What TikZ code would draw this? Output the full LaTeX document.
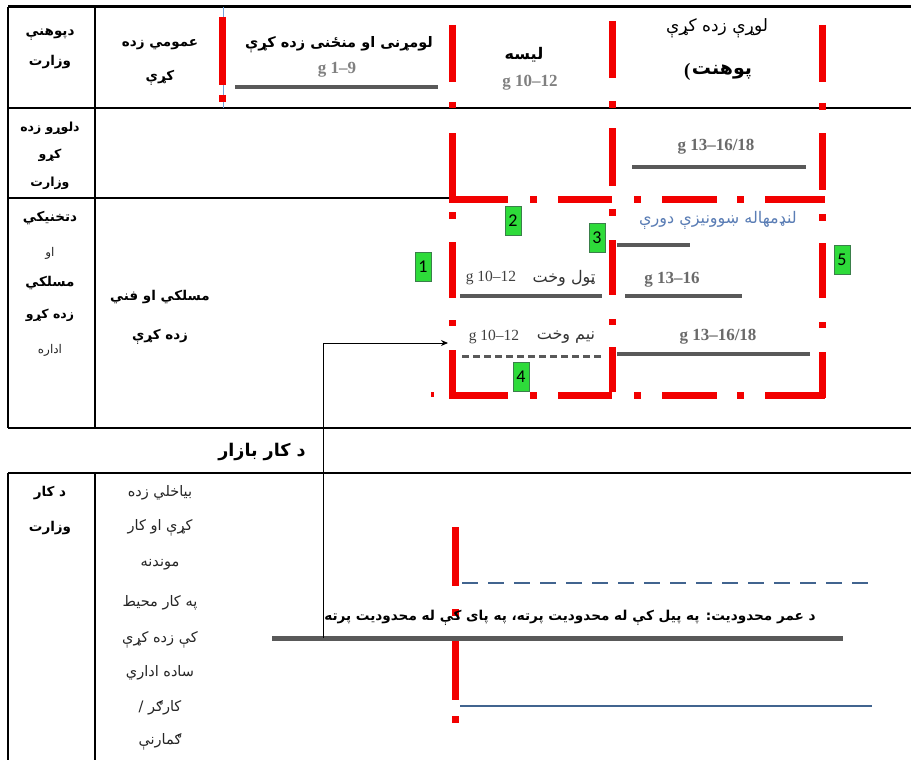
\documentclass[tikz,border=0pt]{standalone}
\usepackage{fontspec}
\setmainfont{Liberation Serif}
\newfontfamily\arabicfont[Script=Arabic]{DejaVu Sans}
\newfontfamily\numfont{Carlito}
\TeXXeTstate=1
\newcommand{\ar}[1]{{\arabicfont\beginR #1\endR}}
\usetikzlibrary{arrows.meta}
\definecolor{gline}{HTML}{595959}
\definecolor{gtext}{HTML}{808080}
\definecolor{gtextd}{HTML}{6A6A6A}
\definecolor{bline}{HTML}{41648F}
\definecolor{btext}{HTML}{5A7DB5}
\definecolor{gfill}{HTML}{2EDB3A}
\definecolor{gborder}{HTML}{3A7F4A}
\definecolor{redd}{HTML}{F20000}
\definecolor{lblue}{HTML}{6FA0D8}
\newcommand{\redv}[3]{\draw[redseg] (#1,#2) -- (#1,#3);}
\newcommand{\redh}[3]{\draw[redseg] (#2,#1) -- (#3,#1);}
\newcommand{\fs}[1]{\fontsize{#1}{#1}\selectfont}
\begin{document}
\begin{tikzpicture}[x=1pt,y=-1pt,
  tbl/.style={draw=black, line width=1.8pt},
  redseg/.style={draw=redd, line width=7pt},
  gbar/.style={draw=gline, line width=4pt},
  artxt/.style={inner sep=0pt, font=\fs{13}},
  arbold/.style={inner sep=0pt, font=\bfseries\fs{13.5}},
  arsmall/.style={inner sep=0pt, font=\fs{12}, text=black!85},
  arlist/.style={inner sep=0pt, font=\fs{14.5}, text=black!85},
  gtxt/.style={inner sep=0pt, text=gtext, font=\bfseries\fs{17}},
  gtxtd/.style={inner sep=0pt, text=gtextd, font=\bfseries\fs{17}},
  glab/.style={inner sep=0pt, text=black!75, font=\fs{15.5}},
  mixtxt/.style={inner sep=0pt, text=black!80, font=\fs{16}},
  gbox/.style={draw=gborder, fill=gfill, line width=0.6pt, minimum width=16pt,
    minimum height=29pt, inner sep=0pt, font=\numfont\fs{18}}]
\useasboundingbox (0,0) rectangle (911,760);
\fill[white] (0,0) rectangle (911,760);

% ---------- table lines ----------
\draw[draw=black, line width=3pt] (8,7) -- (911,7);
\draw[tbl] (8,7) -- (8,428);
\draw[tbl] (95,7) -- (95,428);
\draw[tbl] (8,108) -- (911,108);
\draw[tbl] (8,198) -- (450,198);
\draw[tbl] (8,428) -- (911,428);
\draw[tbl] (8,473) -- (911,473);
\draw[tbl] (8,473) -- (8,760);
\draw[tbl] (95,473) -- (95,760);
\draw[draw=lblue, line width=1pt] (223,7) -- (223,108);

% ---------- red dash-dot lines ----------
% top row
\redv{222}{17}{85}\redv{222}{95}{102}
\redv{452}{25}{82}\redv{452}{102}{108}
\redv{612}{21}{78}\redv{612}{101}{108}
\redv{822}{25}{82}\redv{822}{103}{110}
% second row
\redv{452}{133}{196}
\redv{612}{128}{186}
\redv{822}{133}{190}
% box top and bottom
\foreach \yy in {199,395}{
  \redh{\yy}{449}{508}\redh{\yy}{530}{537}\redh{\yy}{558}{612}
  \redh{\yy}{634}{641}\redh{\yy}{662}{717}\redh{\yy}{737}{744}\redh{\yy}{765}{825}}
% box verticals
\redv{452}{212}{219}\redv{452}{242}{298}\redv{452}{320}{326}\redv{452}{350}{398}
\redv{612}{209}{216}\redv{612}{240}{295}\redv{612}{319}{325}\redv{612}{347}{392}
\redv{822}{214}{221}\redv{822}{243}{298}\redv{822}{322}{328}\redv{822}{352}{398}
\draw[draw=redd, line width=3pt] (432,392) -- (432,397);
% bottom section
\redv{455}{527}{586}\redv{455}{609}{616}\redv{455}{640}{700}\redv{455}{716}{723}

% ---------- grey bars ----------
\draw[gbar] (235,87) -- (438,87);
\draw[gbar] (632,167) -- (806,167);
\draw[gbar] (617,245) -- (690,245);
\draw[gbar] (460,296) -- (602,296);
\draw[gbar] (625,296) -- (742,296);
\draw[draw=gline, line width=3pt, dash pattern=on 7pt off 4pt] (462,356) -- (602,356);
\draw[gbar] (617,354) -- (810,354);
\draw[draw=gline, line width=5pt] (272,638) -- (843,638);

% ---------- blue lines ----------
\draw[draw=bline, line width=2.5pt, dash pattern=on 16pt off 10pt] (462,583) -- (875,583);
\draw[draw=bline, line width=2.5pt] (460,706) -- (872,706);

% ---------- header row ----------
\node[arbold] (h1a) at (50,35) {\ar{دپوهنې}};
\node[arbold] (h1b) at (50,62) {\ar{وزارت}};
\node[arbold] (h2a) at (160,45) {\ar{عمومي زده}};
\node[arbold] (h2b) at (160,78) {\ar{کړې}};
\node[arbold, font=\bfseries\fs{14.5}] (h3) at (339,45) {\ar{لومړنی او منځنی زده کړې}};
\node[gtxt] (g19) at (337,70) {g 1–9};
\node[arbold, font=\bfseries\fs{16}] (h4) at (524,55) {\ar{لیسه}};
\node[gtxt] (g1012a) at (530,83) {g 10–12};
\node[artxt, font=\fs{17}] (h5) at (717,28) {\ar{لوړې زده کړې}};
\node[arbold, font=\bfseries\fs{19}] (h5b) at (722,72) {\ar{پوهنت}};
\node[inner sep=0pt, font=\bfseries\fs{19}, anchor=east] (h5p) at ([xshift=-1pt]h5b.west) {(};

% ---------- second row ----------
\node[arbold, font=\bfseries\fs{12.5}] (r2a) at (50,128) {\ar{دلوړو زده}};
\node[arbold, font=\bfseries\fs{12.5}] (r2b) at (50,155) {\ar{کړو}};
\node[arbold, font=\bfseries\fs{12.5}] (r2c) at (50,183) {\ar{وزارت}};
\node[gtxtd] (g1318a) at (716,147) {g 13–16/18};

% ---------- third row ----------
\node[arbold] (r3a) at (50,218) {\ar{دتخنيکي}};
\node[arsmall] (r3b) at (50,253) {\ar{او}};
\node[arbold] (r3c) at (50,283) {\ar{مسلکي}};
\node[arbold, font=\bfseries\fs{12.5}] (r3d) at (50,315) {\ar{زده کړو}};
\node[arsmall] (r3e) at (50,350) {\ar{اداره}};
\node[arbold] (r3f) at (160,297) {\ar{مسلکي او فني}};
\node[arbold] (r3g) at (160,337) {\ar{زده کړې}};
\node[artxt, font=\fs{16}, text=btext] (short) at (718,220) {\ar{لنډمهاله ښوونيزې دورې}};
\node[glab] (fullg) at (491,278) {g 10–12};
\node[mixtxt] (fullar) at (564,278) {\ar{ټول وخت}};
\node[gtxtd] (g1316) at (672,280) {g 13–16};
\node[glab] (partg) at (494,337) {g 10–12};
\node[mixtxt] (partar) at (566,337) {\ar{نیم وخت}};
\node[gtxtd] (g1318b) at (718,337) {g 13–16/18};

% ---------- green markers ----------
\node[gbox] (m1) at (423,267) {1};
\node[gbox] (m2) at (513,221) {2};
\node[gbox] (m3) at (597,238) {3};
\node[gbox] (m4) at (521,377) {4};
\node[gbox] (m5) at (842,260) {5};

% ---------- labour market ----------
\node[arbold, font=\bfseries\fs{17.5}] (market) at (262,452) {\ar{د کار بازار}};

% ---------- bottom table ----------
\node[arbold] (b1a) at (50,493) {\ar{د کار}};
\node[arbold] (b1b) at (50,528) {\ar{وزارت}};
\node[arlist] (b2a) at (160,493) {\ar{بیاخلي زده}};
\node[arlist] (b2b) at (160,528) {\ar{کړې او کار}};
\node[arlist] (b2c) at (160,565) {\ar{موندنه}};
\node[arlist] (b2d) at (160,603) {\ar{په کار محیط}};
\node[arlist] (b2e) at (160,640) {\ar{کې زده کړې}};
\node[arlist] (b2f) at (160,673) {\ar{ساده اداري}};
\node[arlist] (b2g) at (160,708) {\ar{کارګر /}};
\node[arlist] (b2h) at (160,742) {\ar{ګمارنې}};
\node[arbold, font=\bfseries\fs{13.6}] (age) at (570,618) {\ar{د عمر محدودیت: په پیل کې له محدودیت پرته، په پای کې له محدودیت پرته}};

% ---------- connector ----------
\coordinate (cfoot) at (323,638);
\coordinate (ctip) at (448,343);
\draw[line width=1pt, -{Stealth[length=7pt,width=6pt]}] (cfoot) |- (ctip);
\end{tikzpicture}
\end{document}
